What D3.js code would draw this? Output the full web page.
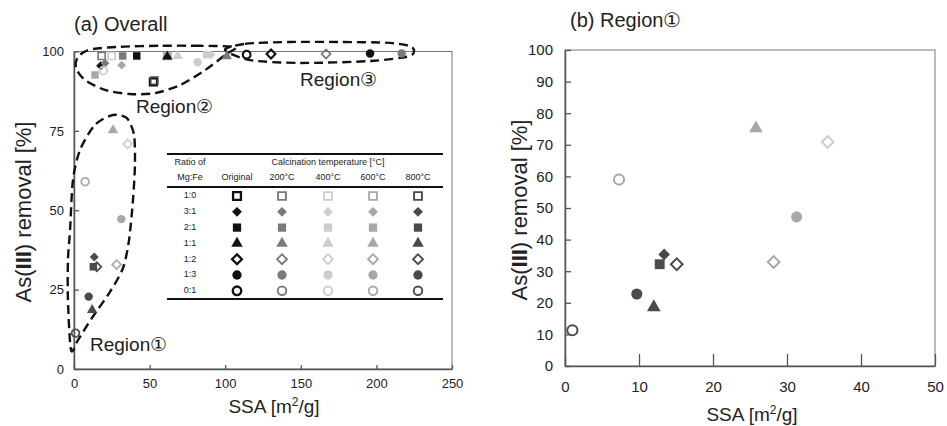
<!DOCTYPE html>
<html>
<head>
<meta charset="utf-8">
<script src="https://cdn.jsdelivr.net/npm/d3@7"></script>
<style>
  body { margin: 0; background: #fff; }
  text { font-family: "Liberation Sans", Arial, sans-serif; fill: #222; }
</style>
</head>
<body>
<div id="chart"></div>
<script>
// legend rows / columns
const ratios = ["1:0", "3:1", "2:1", "1:1", "1:2", "1:3", "0:1"];
const temps = ["Original", "200°C", "400°C", "600°C", "800°C"];

// one entry per sample
const sampleRatio = [
  "1:0", "1:0", "1:0", "1:0", "1:0",
  "3:1", "3:1", "3:1", "3:1", "3:1",
  "2:1", "2:1", "2:1", "2:1", "2:1",
  "1:1", "1:1", "1:1", "1:1", "1:1",
  "1:2", "1:2", "1:2", "1:2", "1:2",
  "1:3", "1:3", "1:3", "1:3", "1:3",
  "0:1", "0:1", "0:1", "0:1"
];
const sampleTemp = [
  "Original", "200°C", "400°C", "600°C", "800°C",
  "Original", "200°C", "400°C", "600°C", "800°C",
  "Original", "200°C", "400°C", "600°C", "800°C",
  "Original", "200°C", "400°C", "600°C", "800°C",
  "Original", "200°C", "400°C", "600°C", "800°C",
  "Original", "200°C", "400°C", "600°C", "800°C",
  "Original", "400°C", "600°C", "800°C"
];
const sampleSSA = [
  52.5, 18.3, 24.9, 61.7, 53.1,
  17.6, 20.5, 90.6, 31.5, 13.4,
  41.5, 32.2, 87.8, 13.9, 12.8,
  61.7, 101.0, 68.6, 25.8, 12.0,
  130.3, 166.7, 35.5, 28.2, 15.1,
  195.8, 216.7, 81.8, 31.3, 9.7,
  114.2, 19.4, 7.3, 1.0
];
const sampleRemoval = [
  90.4, 98.6, 98.6, 98.6, 90.8,
  95.5, 96.3, 99.0, 95.7, 35.3,
  98.6, 98.6, 99.0, 92.6, 32.2,
  98.4, 98.5, 98.6, 75.2, 18.6,
  99.2, 99.2, 70.9, 32.9, 32.2,
  99.4, 99.4, 96.6, 47.2, 22.8,
  99.0, 94.0, 59.0, 11.3
];

// dashed region outlines, [SSA, removal]
const region1 = [[-2, 6], [-4, 21.7], [-4, 34.3], [-2.6, 43.8], [-0.7, 59.5], [4, 69], [13.9, 76.9],
  [25.8, 80], [35, 79], [39.7, 73.7], [40.3, 64.3], [39, 53.2], [36.4, 40.6], [32.4, 31.8],
  [23.8, 24.3], [11.9, 16.1], [2.6, 9.1]];
const region2 = [[106.5, 101.4], [83.3, 101.8], [56.9, 101.8], [30.4, 101.5], [10.6, 100.6], [2.6, 98.3],
  [1.3, 94.8], [7.3, 91], [20.5, 87.9], [37, 86.6], [53.6, 86.9], [70.1, 89.4], [86.6, 94.1], [99.9, 98.9]];
const region3 = [[99.9, 100.5], [113.1, 102.4], [142.9, 103], [175.9, 103], [209, 102.7], [223.5, 101.4],
  [222.2, 98.6], [195.8, 97], [149.5, 96.4], [116.4, 97.3]];

// tick values
const ticksAx = [0, 50, 100, 150, 200, 250];
const ticksAy = [0, 25, 50, 75, 100];
const ticksBx = [0, 10, 20, 30, 40, 50];
const ticksBy = [0, 10, 20, 30, 40, 50, 60, 70, 80, 90, 100];

const samples = sampleSSA.map((s, i) => ({
  ratio: sampleRatio[i], temp: sampleTemp[i], ssa: s, removal: sampleRemoval[i]
}));

const tempColor = d3.scaleOrdinal()
  .domain(temps)
  .range(["#111111", "#7a7a7a", "#cdcdcd", "#a8a8a8", "#4a4a4a"]);

// shape per Mg:Fe ratio
const shapeOf = {
  "1:0": { type: "square", open: true },
  "3:1": { type: "diamond", open: false },
  "2:1": { type: "square", open: false },
  "1:1": { type: "triangle", open: false },
  "1:2": { type: "diamond", open: true },
  "1:3": { type: "circle", open: false },
  "0:1": { type: "circle", open: true }
};

function drawMarker(g, ratio, temp, x, y, k) {
  const s = shapeOf[ratio];
  const col = tempColor(temp);
  let gen, rot = 0;
  if (s.type === "square") gen = d3.symbol(d3.symbolSquare, (s.open ? 56 : 62) * k * k);
  if (s.type === "diamond") { gen = d3.symbol(d3.symbolSquare, 44 * k * k); rot = 45; }
  if (s.type === "triangle") gen = d3.symbol(d3.symbolTriangle, 52 * k * k);
  if (s.type === "circle") gen = d3.symbol(d3.symbolCircle, (s.open ? 52 : 62) * k * k);
  g.append("path")
    .attr("d", gen())
    .attr("transform", `translate(${x},${y}) rotate(${rot})`)
    .attr("fill", s.open ? "#fff" : col)
    .attr("fill-opacity", s.open ? 0 : 1)
    .attr("stroke", s.open ? col : "none")
    .attr("stroke-width", s.open ? (temp === "Original" ? 2.2 : 1.8) * Math.min(k, 1.1) : 0);
}

const svg = d3.select("#chart")
  .append("svg")
  .attr("width", 947)
  .attr("height", 426);

function styleAxis(g, size) {
  g.select(".domain").attr("stroke", "#555").attr("stroke-width", 1.5);
  g.selectAll(".tick line").attr("stroke", "#555").attr("stroke-width", 1.3);
  g.selectAll(".tick text").attr("fill", "#222")
    .style("font-family", "'Liberation Sans', Arial, sans-serif")
    .style("font-size", size + "px");
}

function yTitle(x, y) {
  const t = svg.append("text")
    .attr("transform", `translate(${x},${y}) rotate(-90)`)
    .attr("text-anchor", "middle")
    .style("font-size", "22px");
  t.append("tspan").text("As(");
  t.append("tspan").style("font-weight", "bold").text("III");
  t.append("tspan").text(") removal [%]");
}

function xTitle(x, y) {
  const t = svg.append("text")
    .attr("x", x).attr("y", y)
    .attr("text-anchor", "middle")
    .style("font-size", "19px");
  t.append("tspan").text("SSA [m");
  t.append("tspan").attr("dy", -7).style("font-size", "12px").text("2");
  t.append("tspan").attr("dy", 7).text("/g]");
}

// ---------- (a) Overall ----------
const xA = d3.scaleLinear().domain([0, 250]).range([74, 452]);
const yA = d3.scaleLinear().domain([0, 100]).range([369, 51.5]);

svg.append("rect")
  .attr("x", xA(0)).attr("y", yA(100))
  .attr("width", xA(250) - xA(0)).attr("height", yA(0) - yA(100))
  .attr("fill", "none").attr("stroke", "#777").attr("stroke-width", 1);

const axAy = svg.append("g")
  .attr("transform", `translate(${xA(0)},0)`)
  .call(d3.axisLeft(yA).tickValues(ticksAy).tickSize(-5).tickSizeOuter(0).tickPadding(10));
styleAxis(axAy, 13);

const axAx = svg.append("g")
  .attr("transform", `translate(0,${yA(0)})`)
  .call(d3.axisBottom(xA).tickValues(ticksAx).tickSize(-4).tickSizeOuter(0).tickPadding(10));
styleAxis(axAx, 13);

svg.append("text").attr("x", 74).attr("y", 31).style("font-size", "20px").text("(a) Overall");
yTitle(31, 212);
xTitle(274, 413);

// legend table
const leg = svg.append("g");
const legX0 = 167, legX1 = 443;
const colX = [190, 237, 282, 328, 373, 418];
const rowY0 = 196, rowStep = 15.8;
[154, 187, 299].forEach(y => {
  leg.append("line").attr("x1", legX0).attr("x2", legX1).attr("y1", y).attr("y2", y)
    .attr("stroke", "#111").attr("stroke-width", 2);
});
const legText = (x, y, s) => leg.append("text").attr("x", x).attr("y", y)
  .attr("text-anchor", "middle").attr("dominant-baseline", "middle")
  .style("font-size", "9px").attr("fill", "#444").text(s);
legText(colX[0], 163, "Ratio of");
legText(colX[0], 178, "Mg:Fe");
legText(328, 163, "Calcination temperature [°C]");
temps.forEach((t, j) => legText(colX[j + 1], 178, t));
ratios.forEach((r, i) => {
  const y = rowY0 + i * rowStep;
  legText(colX[0], y, r);
  temps.forEach((t, j) => drawMarker(leg, r, t, colX[j + 1], y, 1.05));
});

// region outlines
const outline = d3.line().x(d => xA(d[0])).y(d => yA(d[1])).curve(d3.curveCardinalClosed.tension(0.2));
[region1, region2, region3].forEach(r => {
  svg.append("path")
    .attr("d", outline(r))
    .attr("fill", "none")
    .attr("stroke", "#111")
    .attr("stroke-width", 2.4)
    .attr("stroke-dasharray", "9,5");
});
svg.append("text").attr("x", 90).attr("y", 351).style("font-size", "19px").text("Region①");
svg.append("text").attr("x", 136).attr("y", 113).style("font-size", "19px").text("Region②");
svg.append("text").attr("x", 300).attr("y", 86).style("font-size", "19px").text("Region③");

const ptsA = svg.append("g");
samples.forEach(d => drawMarker(ptsA, d.ratio, d.temp, xA(d.ssa), yA(d.removal), 0.95));

// ---------- (b) Region 1 ----------
const xB = d3.scaleLinear().domain([0, 50]).range([565, 935]);
const yB = d3.scaleLinear().domain([0, 100]).range([366, 50]);

svg.append("rect")
  .attr("x", xB(0)).attr("y", yB(100))
  .attr("width", xB(50) - xB(0)).attr("height", yB(0) - yB(100))
  .attr("fill", "none").attr("stroke", "#777").attr("stroke-width", 1);

const axBy = svg.append("g")
  .attr("transform", `translate(${xB(0)},0)`)
  .call(d3.axisLeft(yB).tickValues(ticksBy).tickSize(-6).tickSizeOuter(0).tickPadding(12));
styleAxis(axBy, 15);

const axBx = svg.append("g")
  .attr("transform", `translate(0,${yB(0)})`)
  .call(d3.axisBottom(xB).tickValues(ticksBx).tickSize(-12).tickSizeOuter(0).tickPadding(15));
styleAxis(axBx, 15);

svg.append("text").attr("x", 570).attr("y", 27).style("font-size", "20px").text("(b) Region①");
yTitle(527, 210);
xTitle(752, 421);

const ptsB = svg.append("g");
samples.filter(d => d.removal < 80)
  .forEach(d => drawMarker(ptsB, d.ratio, d.temp, xB(d.ssa), yB(d.removal), 1.25));
</script>
</body>
</html>
